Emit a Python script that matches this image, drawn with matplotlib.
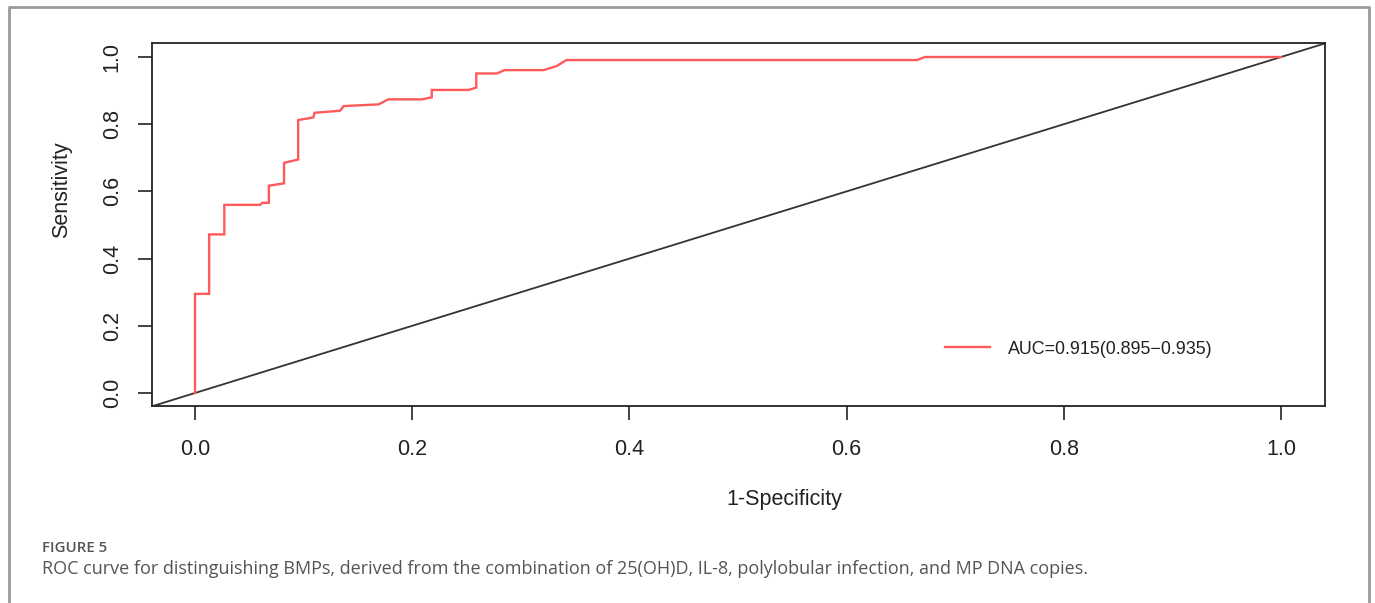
import matplotlib
matplotlib.use("Agg")
import matplotlib.pyplot as plt
from matplotlib.lines import Line2D

# ROC curve vertices (1-specificity, sensitivity)
fpr = [0.0, 0.0, 0.013, 0.013, 0.027, 0.027, 0.060, 0.062, 0.068, 0.068,
       0.082, 0.082, 0.095, 0.095, 0.109, 0.110, 0.1335, 0.137, 0.169, 0.178,
       0.209, 0.218, 0.218, 0.252, 0.259, 0.259, 0.278, 0.285, 0.321, 0.333,
       0.342, 0.665, 0.672, 1.0]
tpr = [0.0, 0.295, 0.295, 0.472, 0.472, 0.560, 0.560, 0.566, 0.566, 0.617,
       0.624, 0.685, 0.695, 0.8125, 0.820, 0.834, 0.840, 0.854, 0.859, 0.874,
       0.874, 0.880, 0.902, 0.902, 0.909, 0.951, 0.951, 0.961, 0.961, 0.973,
       0.991, 0.991, 1.0, 1.0]
legend_label = "AUC=0.915(0.895\u22120.935)"
x_ticks = [0.0, 0.2, 0.4, 0.6, 0.8, 1.0]
y_ticks = [0.0, 0.2, 0.4, 0.6, 0.8, 1.0]
x_title = "1-Specificity"
y_title = "Sensitivity"
fig_label = "FIGURE 5"
caption = ("ROC curve for distinguishing BMPs, derived from the combination of "
           "25(OH)D, IL-8, polylobular infection, and MP DNA copies.")

W, H = 1375, 603
fig = plt.figure(figsize=(W / 100, H / 100), dpi=100)
fig.patch.set_facecolor("white")

def fx(px):
    return px / W

def fy(py):
    return 1 - py / H

# axes box: x 152..1325, y 43..406 (pixels)
ax = fig.add_axes([fx(152), fy(406), fx(1325) - fx(152), fy(43) - fy(406)])
ax.set_xlim(-0.0396, 1.0405)
ax.set_ylim(-0.0387, 1.0417)

AX_FONT = "Liberation Sans"
ax.plot(fpr, tpr, color="#ff5a5a", lw=1.7, solid_joinstyle="miter",
        label=legend_label, zorder=3)
ax.axline((0, 0), (1, 1), color="#333333", lw=1.3, zorder=2)

for s in ax.spines.values():
    s.set_color("#222222")
    s.set_linewidth(1.3)

ax.set_xticks(x_ticks)
ax.set_yticks(y_ticks)
ax.set_xticklabels([f"{v:.1f}" for v in x_ticks], fontfamily=AX_FONT, fontsize=15.5)
ax.set_yticklabels([f"{v:.1f}" for v in y_ticks], fontfamily=AX_FONT, fontsize=15.5,
                   rotation=90, va="center")
ax.tick_params(axis="x", length=10, width=1.2, color="#222222", pad=14, labelcolor="#222222")
ax.tick_params(axis="y", length=10, width=1.2, color="#222222", pad=11, labelcolor="#222222")

ax.set_xlabel(x_title, fontfamily=AX_FONT, fontsize=15.5, color="#222222", va="center")
ax.xaxis.set_label_coords((784 - 152) / 1173, (406 - 500) / 363)
ax.set_ylabel(y_title, fontfamily=AX_FONT, fontsize=15.5, color="#222222", va="center")
ax.yaxis.set_label_coords((62 - 152) / 1173, (406 - 190) / 363)

leg = ax.legend(loc="center left", bbox_to_anchor=(fx(945), fy(349)),
                bbox_transform=fig.transFigure, frameon=False,
                prop={"family": AX_FONT, "size": 12.9},
                handlelength=2.5, handletextpad=1.0, borderpad=0, borderaxespad=0)
for t in leg.get_texts():
    t.set_color("#222222")

# outer frame (left, top, right)
frame_x = [fx(8.5), fx(8.5), fx(1368.5), fx(1368.5)]
frame_y = [0.0, fy(7), fy(7), 0.0]
fig.add_artist(Line2D(frame_x, frame_y, transform=fig.transFigure,
                      color="#9a9a9a", lw=2))

fig.text(fx(42), fy(548), fig_label, fontfamily="Open Sans", fontweight="semibold",
         fontsize=10.8, color="#555555", va="center", ha="left")
fig.text(fx(42), fy(569), caption, fontfamily="Open Sans", fontsize=13,
         color="#555555", va="center", ha="left")

fig.savefig("out.png", dpi=100, facecolor="white")
